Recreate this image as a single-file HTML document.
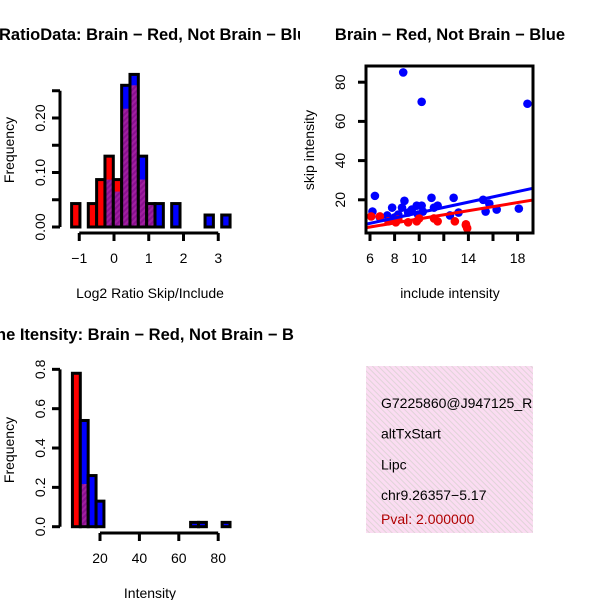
<!DOCTYPE html>
<html><head><meta charset="utf-8"><style>
body{margin:0;background:#fff;width:600px;height:600px;overflow:hidden}
svg{display:block;font-family:"Liberation Sans",sans-serif}
</style></head><body>
<svg id="c" width="600" height="600" viewBox="0 0 600 600">
<defs>
<pattern id="purp" width="4" height="4" patternUnits="userSpaceOnUse" patternTransform="rotate(45)"><rect width="4" height="4" fill="#a020a0"/><rect width="2" height="4" fill="#8a1090"/></pattern>
<pattern id="pink" width="4" height="4" patternUnits="userSpaceOnUse" patternTransform="rotate(-45)"><rect width="4" height="4" fill="#fbdcf2"/><rect width="1" height="4" fill="#e0d4d8"/></pattern>
<clipPath id="scClip"><rect x="366" y="66" width="167" height="167"/></clipPath>
<clipPath id="leftClip"><rect x="0" y="0" width="300" height="600"/></clipPath>
<clipPath id="infoClip"><rect x="366" y="366" width="167" height="167"/></clipPath>
</defs>
</svg>
<script>
// ---------- data ----------
const ratioBinStart = -1.22, ratioBinWidth = 0.24;
const ratioRed  = [0.043,0,0.043,0.087,0.13,0.087,0.217,0.26,0.087,0.043,0,0,0,0,0,0,0,0,0];
const ratioBlue = [0,0,0,0,0.087,0.065,0.26,0.28,0.13,0.043,0.043,0,0.043,0,0,0,0.022,0,0.022];
const ratioXTicks = [-1,0,1,2,3];
const ratioYTicks = [0,0.1,0.2];
const ratioYTickLabels = ["0.00","0.10","0.20"];

const blueX = [8.7,10.2,18.8,6.4,6.2,7.8,8.8,11.0,12.8,11.5,15.2,15.4,15.7,16.3,18.1,13.2,12.5,8.6,9.4,9.8,10.2,8.3,9.1,9.9,7.4,6.8,10.3,8.0,11.2];
const blueY = [85,70,69,22,14,16,19.5,21,21,17,20,14,18,15,15.5,13.5,12,16,15,17,17,12.5,13.5,12.5,12,11,14,11,16];
const redX = [6.1,6.8,7.5,8.3,9.1,9.8,11.2,11.5,12.9,13.8,13.9,13.8,8.1,10.0];
const redY = [11.5,11.5,9,10,8.5,9,10.5,9,9,7.5,5.5,7,8.5,10.5];
const fitIntercept = [-0.1,-0.13]; // blue, red
const fitSlope = [1.35,1.04];
const scXTicks = [6,8,10,12,14,16,18];
const scXTickLabels = ["6","8","10","","14","","18"];
const scYTicks = [20,40,60,80];

const intBinStart = 6, intBinWidth = 4;
const intRed  = [0.78,0.217,0,0,0,0,0,0,0,0,0,0,0,0,0,0,0,0,0,0];
const intBlue = [0,0.54,0.26,0.13,0,0,0,0,0,0,0,0,0,0,0,0.022,0.022,0,0,0.022];
const intXTicks = [20,40,60,80];
const intYTicks = [0,0.2,0.4,0.6,0.8];
const intYTickLabels = ["0.0","0.2","0.4","0.6","0.8"];

const infoLines = ["G7225860@J947125_RC","altTxStart","Lipc","chr9.26357\u22125.17"];
const infoPval = "Pval: 2.000000";

// ---------- helpers ----------
const svg = document.getElementById('c');
const NS = 'http://www.w3.org/2000/svg';
const FS = 14, TS = 16.5;
function mk(tag, attrs, parent){const e=document.createElementNS(NS,tag);for(const k in attrs)e.setAttribute(k,attrs[k]);(parent||svg).appendChild(e);return e;}
function txt(s, attrs, parent){const e=mk('text',attrs,parent);e.textContent=s;return e;}

// ---------- panel 1: ratio histogram ----------
const p1 = mk('g',{'clip-path':'url(#leftClip)'});


const rx = v => 114 + v*34.75;
const ry = v => 227 - v*545;
function drawHist(g, red, blue, start, w, xf, yf, base, namePrefix){
  for(let i=0;i<red.length;i++){
    const x0=xf(start+i*w), x1=xf(start+(i+1)*w);
    const r=red[i], b=blue[i], mx=Math.max(r,b), mn=Math.min(r,b);
    const bar = mk('g',{},g);
    
    
    if(mx>0){
      mk('rect',{x:x0,y:yf(mx),width:x1-x0,height:base-yf(mx),fill:r>=b?'#ff0000':'#0000ff'},bar);
      if(mn>0) mk('rect',{x:x0,y:yf(mn),width:x1-x0,height:base-yf(mn),fill:'url(#purp)'},bar);
    }
    mk('rect',{x:x0,y:yf(mx),width:x1-x0,height:Math.max(0,base-yf(mx)),fill:'none',stroke:'#000','stroke-width':3},bar);
  }
}
drawHist(p1, ratioRed, ratioBlue, ratioBinStart, ratioBinWidth, rx, ry, 227, 'ratio');
mk('line',{x1:60,y1:ry(0.25),x2:60,y2:ry(0),stroke:'#000','stroke-width':3},p1);
[0,0.05,0.1,0.15,0.2,0.25].forEach(v=>mk('line',{x1:52,y1:ry(v),x2:60,y2:ry(v),stroke:'#000','stroke-width':3},p1));
ratioYTicks.forEach((v,i)=>{const t=txt(ratioYTickLabels[i],{x:0,y:0,'font-size':FS,'text-anchor':'middle',transform:`translate(45,${ry(v)}) rotate(-90)`},p1);});
mk('line',{x1:rx(-1),y1:233,x2:rx(3),y2:233,stroke:'#000','stroke-width':3},p1);
ratioXTicks.forEach(v=>{mk('line',{x1:rx(v),y1:233,x2:rx(v),y2:241,stroke:'#000','stroke-width':3},p1);const t=txt(v<0?'\u22121':String(v),{x:rx(v),y:263,'font-size':FS,'text-anchor':'middle'},p1);});
txt('Log2 Ratio Skip/Include',{x:150,y:298,'font-size':FS,'text-anchor':'middle',},p1);
txt('Frequency',{x:0,y:0,'font-size':FS,'text-anchor':'middle',transform:'translate(14,150) rotate(-90)',},p1);
txt('RatioData: Brain \u2212 Red, Not Brain \u2212 Blue',{x:-1,y:40,'font-size':TS,'font-weight':'bold',},p1);

// ---------- panel 2: scatter ----------
const p2 = mk('g',{});


const sx = v => 370 + (v-6)*12.3;
const sy = v => 239 - v*1.96;
const pts = mk('g',{'clip-path':'url(#scClip)'},p2);
blueX.forEach((x,i)=>{const c=mk('circle',{cx:sx(x),cy:sy(blueY[i]),r:4.3,fill:'#0000ff'},pts);});
redX.forEach((x,i)=>{const c=mk('circle',{cx:sx(x),cy:sy(redY[i]),r:4.3,fill:'#ff0000'},pts);});
['#0000ff','#ff0000'].forEach((col,k)=>{const l=mk('line',{x1:sx(5.5),y1:sy(fitIntercept[k]+fitSlope[k]*5.5),x2:sx(19.5),y2:sy(fitIntercept[k]+fitSlope[k]*19.5),stroke:col,'stroke-width':3},pts);});
mk('rect',{x:366,y:66,width:167,height:167,fill:'none',stroke:'#000','stroke-width':3,},p2);
scXTicks.forEach((v,i)=>{mk('line',{x1:sx(v),y1:233,x2:sx(v),y2:241,stroke:'#000','stroke-width':3},p2);if(scXTickLabels[i]){const t=txt(scXTickLabels[i],{x:sx(v),y:263,'font-size':FS,'text-anchor':'middle'},p2);}});
scYTicks.forEach(v=>{mk('line',{x1:358,y1:sy(v),x2:366,y2:sy(v),stroke:'#000','stroke-width':3},p2);const t=txt(String(v),{x:0,y:0,'font-size':FS,'text-anchor':'middle',transform:`translate(345,${sy(v)}) rotate(-90)`},p2);});
txt('include intensity',{x:450,y:298,'font-size':FS,'text-anchor':'middle',},p2);
txt('skip intensity',{x:0,y:0,'font-size':FS,'text-anchor':'middle',transform:'translate(314,150) rotate(-90)',},p2);
txt('Brain \u2212 Red, Not Brain \u2212 Blue',{x:450,y:40,'font-size':TS,'font-weight':'bold','text-anchor':'middle',},p2);

// ---------- panel 3: intensity histogram ----------
const p3 = mk('g',{'clip-path':'url(#leftClip)'});


const ix = v => 60.6 + v*1.97;
const iy = v => 526.7 - v*196.7;
drawHist(p3, intRed, intBlue, intBinStart, intBinWidth, ix, iy, 526.7, 'intensity');
mk('line',{x1:60,y1:iy(0.8),x2:60,y2:iy(0),stroke:'#000','stroke-width':3},p3);
intYTicks.forEach((v,i)=>{mk('line',{x1:52,y1:iy(v),x2:60,y2:iy(v),stroke:'#000','stroke-width':3},p3);const t=txt(intYTickLabels[i],{x:0,y:0,'font-size':FS,'text-anchor':'middle',transform:`translate(45,${iy(v)}) rotate(-90)`},p3);});
mk('line',{x1:ix(20),y1:533,x2:ix(80),y2:533,stroke:'#000','stroke-width':3},p3);
intXTicks.forEach(v=>{mk('line',{x1:ix(v),y1:533,x2:ix(v),y2:541,stroke:'#000','stroke-width':3},p3);const t=txt(String(v),{x:ix(v),y:563,'font-size':FS,'text-anchor':'middle'},p3);});
txt('Intensity',{x:150,y:598,'font-size':FS,'text-anchor':'middle',},p3);
txt('Frequency',{x:0,y:0,'font-size':FS,'text-anchor':'middle',transform:'translate(14,450) rotate(-90)',},p3);
txt('ne Itensity: Brain \u2212 Red, Not Brain \u2212 B',{x:-4,y:340,'font-size':TS,'font-weight':'bold',},p3);

// ---------- panel 4: info box ----------
const p4 = mk('g',{'clip-path':'url(#infoClip)'});


mk('rect',{x:366,y:366,width:167,height:167,fill:'url(#pink)'},p4);
infoLines.forEach((s,i)=>{const t=txt(s,{x:381,y:408+i*30.7,'font-size':FS,fill:'#000'},p4);});
txt(infoPval,{x:381,y:524,'font-size':FS,fill:'#b00000',},p4);
</script>
</body></html>
